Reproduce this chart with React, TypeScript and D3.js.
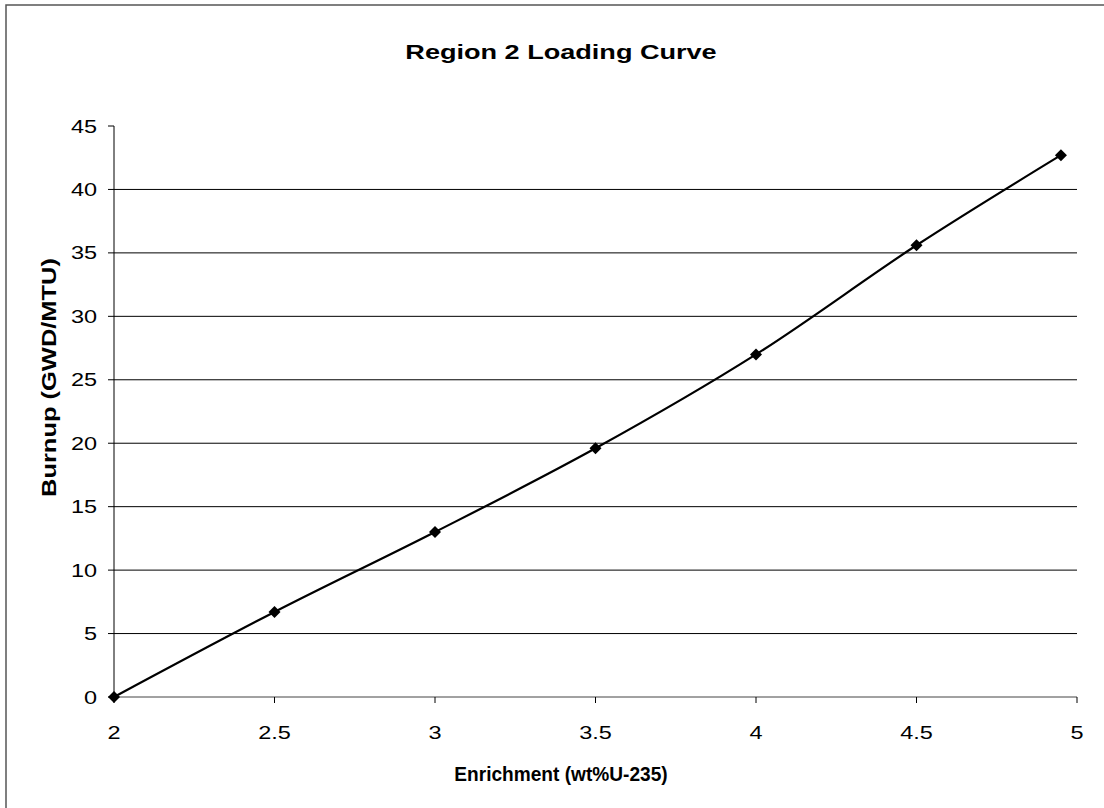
import React, { useEffect } from 'react';
import * as d3 from 'd3';

// Region 2 loading curve: enrichment (wt% U-235) vs burnup (GWD/MTU)
const enrichment = [2, 2.5, 3, 3.5, 4, 4.5, 4.95];
const burnup = [0, 6.7, 13.0, 19.6, 27.0, 35.6, 42.7];
const xTicks = [2, 2.5, 3, 3.5, 4, 4.5, 5];
const yTicks = [0, 5, 10, 15, 20, 25, 30, 35, 40, 45];

const W = 1104;
const H = 808;
const plot = { left: 114, right: 1077, top: 126, bottom: 697 };
const font = 'Arial, "Liberation Sans", Helvetica, sans-serif';
// the scanned chart's text is a bit wider than plain Arial
const stretch = 1.27;

const Label: React.FC<{ x: number; y: number; anchor: string; size: number; bold?: boolean; sx?: number; children: React.ReactNode }> = ({ x, y, anchor, size, bold, sx = stretch, children }) => (
  <g transform={`translate(${x},${y}) scale(${sx},1)`}>
    <text textAnchor={anchor} fontFamily={font} fontSize={size} fontWeight={bold ? 'bold' : 'normal'} fill="#000">
      {children}
    </text>
  </g>
);

const App: React.FC = () => {
  useEffect(() => {
    document.body.style.margin = '0';
  }, []);

  const x = d3.scaleLinear().domain([2, 5]).range([plot.left, plot.right]);
  const y = d3.scaleLinear().domain([0, 45]).range([plot.bottom, plot.top]);

  const points = enrichment.map((e, i) => [e, burnup[i]] as [number, number]);
  const line = d3
    .line<[number, number]>()
    .x(d => x(d[0]))
    .y(d => y(d[1]))
    .curve(d3.curveCatmullRom.alpha(0.5));

  const marker = d3.symbol(d3.symbolSquare, 72)() || '';

  return (
    <svg width={W} height={H} style={{ display: 'block', background: '#fff' }}>
      {/* chart frame */}
      <rect x={6} y={5} width={W + 10} height={H + 10} fill="#fff" stroke="#555" strokeWidth={1.5} />

      <Label x={561} y={59} anchor="middle" size={21} bold sx={1.29}>
        Region 2 Loading Curve
      </Label>

      {/* gridlines */}
      {yTicks.filter(t => t > 0 && t < 45).map(t => (
        <line key={t} x1={plot.left} x2={plot.right} y1={y(t)} y2={y(t)} stroke="#000" strokeWidth={1} />
      ))}

      {/* axes */}
      <line x1={plot.left} x2={plot.left} y1={plot.top} y2={plot.bottom} stroke="#000" strokeWidth={1} />
      <line x1={plot.left} x2={plot.right} y1={plot.bottom} y2={plot.bottom} stroke="#444" strokeWidth={1} />

      {yTicks.map(t => (
        <g key={t}>
          <line x1={plot.left - 6} x2={plot.left} y1={y(t)} y2={y(t)} stroke="#000" />
          <Label x={97} y={y(t) + 6.6} anchor="end" size={18.5}>
            {t}
          </Label>
        </g>
      ))}

      {xTicks.map(t => (
        <g key={t}>
          <line x1={x(t)} x2={x(t)} y1={plot.bottom} y2={plot.bottom + 6} stroke="#000" />
          <Label x={x(t)} y={739} anchor="middle" size={18.5}>
            {t}
          </Label>
        </g>
      ))}

      <Label x={561} y={781} anchor="middle" size={19.5} bold sx={0.98}>
        Enrichment (wt%U-235)
      </Label>

      <text
        transform="translate(56,377.5) rotate(-90)"
        textAnchor="middle"
        fontFamily={font}
        fontWeight="bold"
        fontSize={21}
        textLength={239}
        lengthAdjust="spacingAndGlyphs"
        fill="#000"
      >
        Burnup (GWD/MTU)
      </text>

      <path d={line(points) || ''} fill="none" stroke="#000" strokeWidth={2.2} />

      {points.map((p, i) => (
        <path key={i} d={marker} transform={`translate(${x(p[0])},${y(p[1])}) rotate(45)`} fill="#000" />
      ))}
    </svg>
  );
};

export default App;
